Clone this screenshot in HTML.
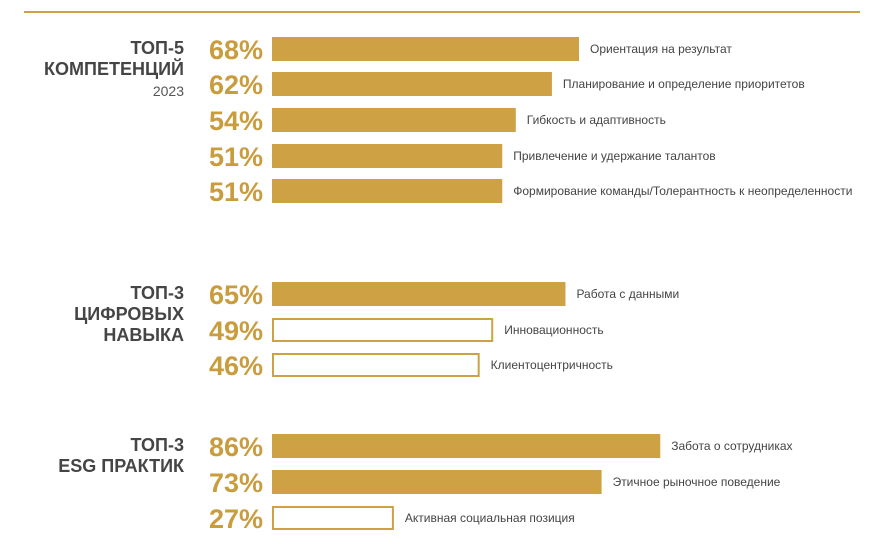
<!DOCTYPE html>
<html><head><meta charset="utf-8"><style>
body{margin:0;width:894px;height:553px;background:#fff;overflow:hidden;font-family:"Liberation Sans","DejaVu Sans",sans-serif}
svg{display:block}
.h{font-weight:bold;font-size:18px;fill:#454545;text-anchor:end}
.p{font-weight:bold;font-size:27px;fill:#c99d3e;text-anchor:end}
.l{font-size:12px;fill:#444}
</style></head><body>
<svg id="c" width="894" height="553">
<line x1="24" y1="12" x2="860" y2="12" stroke="#cda144" stroke-width="2"/>
<text class="h" x="184" y="54">ТОП-5</text>
<text class="h" x="184" y="75">КОМПЕТЕНЦИЙ</text>
<text x="184" y="96" text-anchor="end" font-size="14" fill="#555">2023</text>
<text class="h" x="184" y="299">ТОП-3</text>
<text class="h" x="184" y="320">ЦИФРОВЫХ</text>
<text class="h" x="184" y="341">НАВЫКА</text>
<text class="h" x="184" y="451">ТОП-3</text>
<text class="h" x="184" y="472">ESG ПРАКТИК</text>
</svg>
<script>
const labels=["Ориентация на результат","Планирование и определение приоритетов","Гибкость и адаптивность","Привлечение и удержание талантов","Формирование команды/Толерантность к неопределенности","Работа с данными","Инновационность","Клиентоцентричность","Забота о сотрудниках","Этичное рыночное поведение","Активная социальная позиция"];
const values=[68,62,54,51,51,65,49,46,86,73,27];
const filled=[1,1,1,1,1,1,0,0,1,1,0];
const rowCenters=[49,84,120,156,191,294,330,365,446,482,518];
const svg=document.getElementById('c');
const NS='http://www.w3.org/2000/svg';
const x0=272, k=307/68;
const xs=v=>v*k;
for(let i=0;i<values.length;i++){
  const cy=rowCenters[i], w=xs(values[i]);
  const r=document.createElementNS(NS,'rect');
  if(filled[i]){r.setAttribute('x',x0);r.setAttribute('y',cy-12);r.setAttribute('width',w);r.setAttribute('height',24);r.setAttribute('fill','#cda144');}
  else{r.setAttribute('x',x0+1);r.setAttribute('y',cy-11);r.setAttribute('width',w-2);r.setAttribute('height',22);r.setAttribute('fill','#fff');r.setAttribute('stroke','#cda144');r.setAttribute('stroke-width','2');}
  
  
  svg.appendChild(r);
  const p=document.createElementNS(NS,'text');
  p.setAttribute('class','p');p.setAttribute('x',263);p.setAttribute('y',cy+10);
  p.textContent=values[i]+'%';
  
  
  svg.appendChild(p);
  const t=document.createElementNS(NS,'text');
  t.setAttribute('class','l');t.setAttribute('x',x0+w+11);t.setAttribute('y',cy+4);
  t.textContent=labels[i];
  
  
  svg.appendChild(t);
}
</script>
</body></html>
